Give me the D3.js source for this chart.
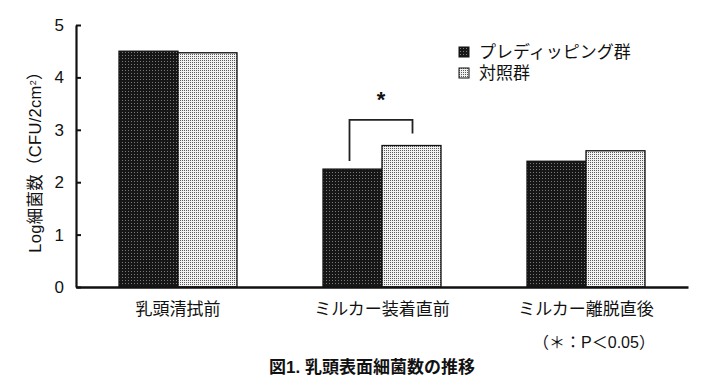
<!DOCTYPE html>
<meta charset="utf-8">
<head>
	<title> 乳頭表面細菌数の推移 </title>
	<style>
		body { margin: 0; background: #fff; }
		text { font-family: "Liberation Sans", "Noto Sans CJK JP", sans-serif; fill: #111; }
		.axis path, .axis line { stroke: #111; }
	</style>
</head>
<body>
	<div id="chart"></div>
</body>

<script src="https://cdn.jsdelivr.net/npm/d3@7"></script>

<script type="text/javascript">

	// Data
	var categories = ["乳頭清拭前", "ミルカー装着直前", "ミルカー離脱直後"];
	var series = ["プレディッピング群", "対照群"];
	var preDipping = [4.5, 2.25, 2.4];
	var control = [4.47, 2.7, 2.6];
	var yTicks = [0, 1, 2, 3, 4, 5];

	var width = 718;
	var height = 390;

	var svg = d3.select("#chart").append("svg")
		.attr("width", width)
		.attr("height", height);

	// fill patterns: dark stipple and light stipple
	var defs = svg.append("defs");
	var pDark = defs.append("pattern").attr("id", "pDark")
		.attr("patternUnits", "userSpaceOnUse").attr("width", 3).attr("height", 3);
	pDark.append("rect").attr("width", 3).attr("height", 3).attr("fill", "#161616");
	pDark.append("rect").attr("x", 1).attr("y", 1).attr("width", 1).attr("height", 1).attr("fill", "#7a7a7a");

	var pLight = defs.append("pattern").attr("id", "pLight")
		.attr("patternUnits", "userSpaceOnUse").attr("width", 2).attr("height", 2);
	pLight.append("rect").attr("width", 2).attr("height", 2).attr("fill", "#f2f2f2");
	pLight.append("rect").attr("x", 0).attr("y", 0).attr("width", 1).attr("height", 1).attr("fill", "#5a5a5a");

	var fills = ["url(#pDark)", "url(#pLight)"];

	var rows = categories.map(function (c, i) {
		return { cat: c, vals: [preDipping[i], control[i]] };
	});

	// scales
	var x0 = d3.scaleBand().domain(categories).range([76, 688]).padding(0);
	var x1 = d3.scaleBand().domain(series).range([43, 161]).padding(0);
	var y = d3.scaleLinear().domain([0, 5]).range([287, 25]);

	// bars
	var group = svg.selectAll("g.grp")
		.data(rows)
		.enter()
		.append("g")
		.attr("class", "grp")
		.attr("transform", function (d) { return "translate(" + x0(d.cat) + ",0)"; });

	group.selectAll("rect")
		.data(function (d) { return d.vals.map(function (v, j) { return { s: series[j], v: v, j: j }; }); })
		.enter()
		.append("rect")
		.attr("x", function (d) { return x1(d.s); })
		.attr("y", function (d) { return y(d.v); })
		.attr("width", x1.bandwidth())
		.attr("height", function (d) { return y(0) - y(d.v); })
		.attr("fill", function (d) { return fills[d.j]; })
		.attr("stroke", "#111")
		.attr("stroke-width", 1.3);

	// y axis (ticks pointing inward)
	var yAxis = svg.append("g")
		.attr("class", "axis")
		.attr("transform", "translate(76,0)")
		.call(d3.axisLeft(y).tickValues(yTicks).tickFormat(d3.format("d"))
			.tickSizeInner(-5).tickSizeOuter(0).tickPadding(12));
	yAxis.select(".domain").attr("stroke-width", 2.2);
	yAxis.selectAll("line").attr("stroke-width", 2);
	yAxis.selectAll("text").style("font-size", "17px").attr("fill", "#111");

	// x axis
	var xAxis = svg.append("g")
		.attr("class", "axis")
		.attr("transform", "translate(0,287)")
		.call(d3.axisBottom(x0).tickSize(0).tickPadding(16));
	xAxis.select(".domain").attr("stroke-width", 2.6);
	xAxis.selectAll("text").style("font-size", "17px").attr("fill", "#111");

	// y axis title
	var yt = svg.append("text")
		.attr("transform", "translate(41,158) rotate(-90)")
		.attr("text-anchor", "middle")
		.style("font-size", "16.5px")
		.style("letter-spacing", "0.3px");
	yt.append("tspan").text("Log細菌数（CFU/2cm");
	yt.append("tspan").attr("baseline-shift", "super").style("font-size", "9px").text("2");
	yt.append("tspan").text("）");

	// significance bracket between groups of category 2
	var bx0 = x0(categories[1]) + x1(series[0]) + x1.bandwidth() / 2 - 3;
	var bx1 = x0(categories[1]) + x1(series[1]) + x1.bandwidth() / 2 + 1;
	var bTop = y(3.19);
	svg.append("path")
		.attr("d", "M" + bx0 + "," + (y(preDipping[1]) - 8) + "V" + bTop + "H" + bx1 + "V" + (y(control[1]) - 12))
		.attr("fill", "none")
		.attr("stroke", "#222")
		.attr("stroke-width", 1.8);
	svg.append("text")
		.attr("x", (bx0 + bx1) / 2)
		.attr("y", bTop - 13)
		.attr("text-anchor", "middle")
		.style("font-size", "22px")
		.style("font-weight", "bold")
		.text("*");

	// legend
	var legend = svg.selectAll("g.leg")
		.data(series)
		.enter()
		.append("g")
		.attr("class", "leg")
		.attr("transform", function (d, i) { return "translate(459," + (47 + i * 21) + ")"; });
	legend.append("rect")
		.attr("width", 10).attr("height", 10)
		.attr("fill", function (d, i) { return fills[i]; })
		.attr("stroke", "#111").attr("stroke-width", 1);
	legend.append("text")
		.attr("x", 20).attr("y", 5).attr("dy", "0.36em")
		.style("font-size", "17px")
		.text(function (d) { return d; });

	// footnote and caption
	svg.append("text")
		.attr("x", 594).attr("y", 348)
		.attr("text-anchor", "middle")
		.style("font-size", "16px")
		.text("（＊：P＜0.05）");
	svg.append("text")
		.attr("x", 372).attr("y", 373)
		.attr("text-anchor", "middle")
		.style("font-size", "17px")
		.style("font-weight", "bold")
		.text("図1. 乳頭表面細菌数の推移");

</script>
</html>
